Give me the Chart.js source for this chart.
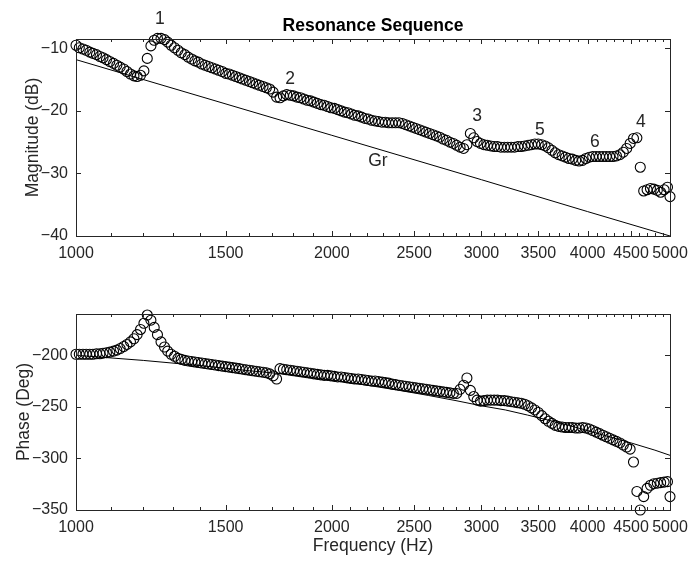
<!DOCTYPE html>
<html>
<head>
<meta charset="utf-8">
<script src="https://cdn.jsdelivr.net/npm/chart.js@4.4.1/dist/chart.umd.min.js"></script>
<style>
  body { margin: 0; background: #fff; }
  #wrap { position: relative; width: 689px; height: 561px; }
  canvas { position: absolute; left: 0; }
</style>
</head>
<body>
<div id="wrap">
  <canvas id="magChart" width="689" height="280" style="top:0"></canvas>
  <canvas id="phaseChart" width="689" height="281" style="top:280px"></canvas>
</div>
<script>
// measured frequencies (Hz)
const freqHz = [
  1000,1009,1019,1028,1038,1047,1057,1067,1076,1086,
  1096,1107,1117,1127,1138,1148,1159,1170,1180,1191,
  1202,1213,1225,1236,1247,1259,1271,1282,1294,1306,
  1318,1330,1343,1355,1368,1380,1393,1406,1419,1432,
  1445,1459,1472,1486,1500,1514,1528,1542,1556,1570,
  1585,1600,1614,1629,1644,1660,1675,1690,1706,1722,
  1738,1754,1770,1787,1803,1820,1837,1854,1871,1888,
  1905,1923,1941,1959,1977,1995,2014,2032,2051,2070,
  2089,2109,2128,2148,2168,2188,2208,2228,2249,2270,
  2291,2312,2333,2355,2377,2399,2421,2443,2466,2489,
  2512,2535,2559,2582,2606,2630,2655,2679,2704,2729,
  2754,2780,2805,2831,2858,2884,2911,2938,2965,2992,
  3020,3048,3076,3105,3133,3162,3192,3221,3251,3281,
  3311,3342,3373,3404,3436,3467,3499,3532,3565,3597,
  3631,3664,3698,3733,3767,3802,3837,3873,3908,3945,
  3981,4018,4055,4093,4131,4169,4207,4246,4285,4325,
  4365,4406,4446,4488,4529,4571,4613,4656,4699,4742,
  4786,4831,4875,4921,4966,5000
];

const magDb = [
  -9.5,-9.9,-10.1,-10.3,-10.6,-10.8,-11.0,-11.3,-11.5,-11.8,
  -12.1,-12.4,-12.7,-13.0,-13.3,-13.7,-14.1,-14.4,-14.5,-14.3,
  -13.6,-11.6,-9.6,-8.7,-8.4,-8.4,-8.6,-9.0,-9.5,-9.9,
  -10.3,-10.7,-11.0,-11.4,-11.7,-12.0,-12.2,-12.5,-12.7,-12.9,
  -13.1,-13.3,-13.5,-13.7,-14.0,-14.1,-14.3,-14.5,-14.7,-14.9,
  -15.1,-15.3,-15.5,-15.7,-15.9,-16.1,-16.3,-16.5,-17.0,-17.8,
  -17.9,-17.6,-17.4,-17.5,-17.6,-17.8,-17.9,-18.1,-18.3,-18.4,
  -18.6,-18.8,-19.0,-19.1,-19.3,-19.5,-19.6,-19.8,-20.0,-20.2,
  -20.3,-20.5,-20.7,-20.8,-21.0,-21.2,-21.3,-21.5,-21.6,-21.7,
  -21.8,-21.8,-21.9,-21.9,-21.9,-21.9,-22.0,-22.2,-22.4,-22.6,
  -22.8,-23.0,-23.2,-23.4,-23.6,-23.8,-24.0,-24.2,-24.5,-24.7,
  -25.0,-25.2,-25.5,-25.8,-26.0,-25.4,-23.6,-24.3,-24.9,-25.2,
  -25.4,-25.5,-25.6,-25.7,-25.7,-25.8,-25.8,-25.8,-25.8,-25.8,
  -25.7,-25.7,-25.6,-25.5,-25.4,-25.3,-25.3,-25.4,-25.6,-25.9,
  -26.3,-26.7,-27.0,-27.2,-27.4,-27.6,-27.7,-27.9,-28.0,-27.9,
  -27.6,-27.4,-27.3,-27.3,-27.3,-27.3,-27.3,-27.3,-27.3,-27.2,
  -27.0,-26.6,-26.0,-25.2,-24.4,-24.3,-29.0,-32.8,-32.6,-32.4,
  -32.5,-32.7,-33.0,-32.6,-32.2,-33.7
];

const phaseDeg = [
  -199,-199,-199,-199,-199,-199,-198.5,-198.5,-198,-197.5,
  -197,-196,-195,-193.5,-191.5,-189.5,-187,-184,-180,-175,
  -169,-161,-166,-173,-180,-187,-192,-196,-199,-201,
  -203,-204,-205,-205.5,-206,-206.5,-207,-207.5,-208,-208.5,
  -209,-209.5,-210,-210.5,-211,-211.5,-212,-212.5,-213,-213.5,
  -214,-214.5,-215,-215.5,-216,-216.5,-217,-218,-220,-223,
  -213,-213.5,-214,-214.5,-215,-215.5,-216,-216.5,-217,-217.5,
  -218,-218.5,-219,-219.5,-219.5,-220,-220.5,-221,-221,-221.5,
  -222,-222.5,-223,-223,-223.5,-224,-224.5,-225,-225,-225.5,
  -226,-226.5,-227,-228,-228.5,-229,-229.5,-230,-230.5,-231,
  -231.5,-232,-232.5,-233,-233.5,-234,-234.5,-235,-235.5,-236,
  -236.5,-237,-237,-233,-229,-222,-234,-240,-243.5,-244.5,
  -244,-243.5,-243.5,-243.5,-243.5,-244,-244,-244.5,-245,-245.5,
  -246,-246.5,-247.5,-249,-251,-253,-255.5,-258.5,-261.5,-264,
  -266,-268,-269,-269.5,-270,-270,-270,-270.5,-270.5,-270,
  -270.5,-271.5,-273,-274.5,-276,-277.5,-279,-280.5,-282,-283.5,
  -285,-287,-289,-291,-303.5,-332,-350,-337,-329,-326,
  -324.5,-324,-323.5,-323,-322.5,-337
];

// reference curves
const grHz = [1000, 2000, 3000, 4000, 5000];
const grDb = [-11.8, -23.9, -31.0, -36.1, -40.0];
const phaseFitHz = [1000,1200,1400,1600,1800,2000,2200,2400,2600,2800,3000,3200,3400,3600,3800,4000,4200,4500,4800,5000];
const phaseFitDeg = [-200,-205,-210,-215,-219,-224,-229,-234,-239,-244,-249,-253,-258,-263,-268,-273,-278,-285,-292,-297];

// resonance labels
const magNoteText = ['1', '2', '3', '5', '6', '4', 'Gr'];
const magNoteHz = [1255, 1786, 2964, 3515, 4080, 4620, 2266];
const magNoteDb = [-5.4, -15.0, -20.9, -23.0, -25.0, -21.8, -28.0];

const freqTicks = [1000, 1500, 2000, 2500, 3000, 3500, 4000, 4500, 5000];
const magTicks = [-40, -30, -20, -10];
const phaseTicks = [-350, -300, -250, -200];

const FONT = "'Liberation Sans', Arial, Helvetica, sans-serif";
const ink = '#262626';
const tickFont = { family: FONT, size: 16 };
const labelFont = { family: FONT, size: 17.5 };

const minusSign = v => String(v).replace('-', '\u2212');

function xy(xs, ys) {
  return xs.map((v, i) => ({ x: v, y: ys[i] }));
}

function xScale(showTitle) {
  return {
    type: 'logarithmic',
    min: 1000,
    max: 5000,
    afterBuildTicks: s => { s.ticks = freqTicks.map(v => ({ value: v })); },
    afterFit: s => { s.height = showTitle ? 51 : 44; s.paddingLeft = 0; s.paddingRight = 0; },
    grid: { display: false, drawTicks: false },
    border: { display: false },
    ticks: {
      autoSkip: false, maxRotation: 0, minRotation: 0, padding: 8,
      color: ink, font: tickFont, callback: v => String(v),
    },
    title: {
      display: showTitle, text: 'Frequency (Hz)', color: ink, font: labelFont,
      padding: { top: 0, bottom: 4 },
    },
  };
}

function yScale(min, max, ticks, text, titleGap) {
  return {
    type: 'linear',
    min, max,
    afterBuildTicks: s => { s.ticks = ticks.map(v => ({ value: v })); },
    afterFit: s => { s.width = 76; s.paddingTop = 0; s.paddingBottom = 0; },
    grid: { display: false, drawTicks: false },
    border: { display: false },
    ticks: { padding: 8, color: ink, font: tickFont, callback: minusSign },
    title: { display: true, text, color: ink, font: labelFont, padding: { top: titleGap, bottom: 0 } },
  };
}

// MATLAB-style box with inward ticks, plus text notes
function axesBox(notes) {
  return {
    id: 'axesBox',
    afterDatasetsDraw(chart) {
      const { ctx, chartArea: a, scales: { x, y } } = chart;
      ctx.save();
      ctx.strokeStyle = ink;
      ctx.lineWidth = 1;
      ctx.beginPath();
      for (let f = 1000; f <= 5000; f += 100) {
        const px = Math.round(x.getPixelForValue(f)) + 0.5;
        const len = freqTicks.includes(f) ? 5 : 3;
        ctx.moveTo(px, a.bottom); ctx.lineTo(px, a.bottom - len);
        ctx.moveTo(px, a.top); ctx.lineTo(px, a.top + len);
      }
      y.ticks.forEach(t => {
        const py = Math.round(y.getPixelForValue(t.value)) + 0.5;
        ctx.moveTo(a.left, py); ctx.lineTo(a.left + 5, py);
        ctx.moveTo(a.right, py); ctx.lineTo(a.right - 5, py);
      });
      ctx.stroke();
      ctx.strokeRect(Math.round(a.left) + 0.5, Math.round(a.top) + 0.5,
        Math.round(a.right - a.left), Math.round(a.bottom - a.top));

      ctx.fillStyle = ink;
      ctx.font = `17.5px ${FONT}`;
      ctx.textAlign = 'center';
      ctx.textBaseline = 'middle';
      notes.forEach(n => {
        ctx.fillText(n.text, x.getPixelForValue(n.x), y.getPixelForValue(n.y));
      });
      ctx.restore();
    },
  };
}

const circleSet = data => ({
  data,
  showLine: false,
  pointStyle: 'circle',
  pointRadius: 5,
  pointBorderWidth: 1.1,
  pointBorderColor: '#000',
  pointBackgroundColor: 'rgba(0,0,0,0)',
  clip: false,
});

const lineSet = data => ({
  data,
  showLine: true,
  borderColor: '#000',
  borderWidth: 1,
  pointRadius: 0,
  tension: 0,
  clip: false,
});

const baseOptions = {
  responsive: false,
  animation: false,
  events: [],
};

new Chart(document.getElementById('magChart'), {
  type: 'scatter',
  data: { datasets: [lineSet(xy(grHz, grDb)), circleSet(xy(freqHz, magDb))] },
  options: {
    ...baseOptions,
    layout: { padding: { left: 0, right: 19, top: 0, bottom: 0 } },
    scales: { x: xScale(false), y: yScale(-40, -8.5, magTicks, 'Magnitude (dB)', 23) },
    plugins: {
      legend: { display: false },
      tooltip: { enabled: false },
      title: {
        display: true, text: 'Resonance Sequence', fullSize: false, color: '#000',
        font: { family: FONT, size: 17.5, weight: 'bold' },
        padding: { top: 16, bottom: 2 },
      },
    },
  },
  plugins: [axesBox(magNoteText.map((t, i) => ({ text: t, x: magNoteHz[i], y: magNoteDb[i] })))],
});

new Chart(document.getElementById('phaseChart'), {
  type: 'scatter',
  data: { datasets: [lineSet(xy(phaseFitHz, phaseFitDeg)), circleSet(xy(freqHz, phaseDeg))] },
  options: {
    ...baseOptions,
    layout: { padding: { left: 0, right: 19, top: 34, bottom: 0 } },
    scales: { x: xScale(true), y: yScale(-350, -160, phaseTicks, 'Phase (Deg)', 14) },
    plugins: {
      legend: { display: false },
      tooltip: { enabled: false },
    },
  },
  plugins: [axesBox([])],
});
</script>
</body>
</html>
